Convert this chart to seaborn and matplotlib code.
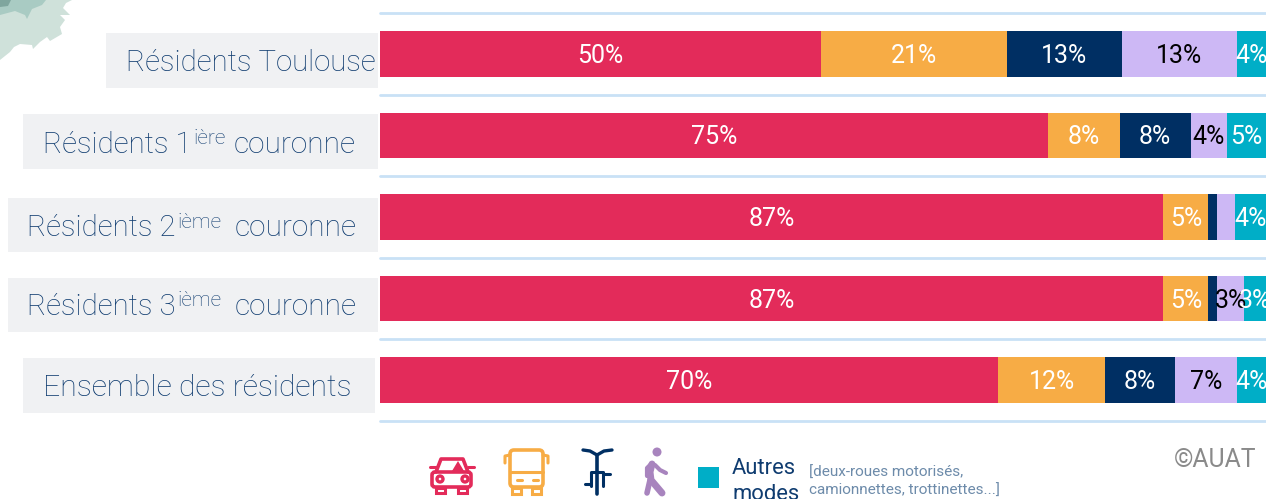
import matplotlib
matplotlib.use("Agg")
import matplotlib.pyplot as plt
import numpy as np
import seaborn as sns
from matplotlib.patches import Rectangle, FancyBboxPatch, Circle, Polygon

sns.set_theme(style="white")
plt.rcParams['font.family'] = ['Roboto', 'DejaVu Sans']

categories = ["Toulouse", "1ere", "2eme", "3eme", "Ensemble"]
voiture = [49.8, 75.4, 88.4, 88.4, 69.8]
tc = [21.0, 8.1, 5.1, 5.1, 12.0]
velo = [12.9, 8.0, 1.0, 1.0, 7.9]
marche = [13.0, 4.1, 2.0, 3.0, 7.0]
autres = [3.4, 4.4, 3.5, 2.5, 3.4]
series = [voiture, tc, velo, marche, autres]
colors = ["#E32B5A", "#F7AC45", "#002F63", "#CDB8F5", "#00AEC7"]
label_voiture = ["50%", "75%", "87%", "87%", "70%"]
label_tc = ["21%", "8%", "5%", "5%", "12%"]
label_velo = ["13%", "8%", "", "", "8%"]
label_marche = ["13%", "4%", "", "3%", "7%"]
label_autres = ["4%", "5%", "4%", "3%", "4%"]
labels = [label_voiture, label_tc, label_velo, label_marche, label_autres]
label_colors = ["white", "white", "white", "black", "white"]

W, H = 1266, 499
fig = plt.figure(figsize=(W / 100, H / 100), dpi=100, facecolor="white")

# overlay in pixel coordinates for decoration
bg = fig.add_axes([0, 0, 1, 1], zorder=0)
bg.set_xlim(0, W); bg.set_ylim(H, 0); bg.axis("off")

ax = fig.add_axes([380 / W, (H - 421) / H, 886 / W, 408 / H], zorder=1)
ax.patch.set_alpha(0)
left = np.zeros(len(categories))
for vals, c in zip(series, colors):
    sns.barplot(y=categories, x=vals, left=left, color=c, saturation=1, orient="h",
                width=0.56, ax=ax, linewidth=0, zorder=3)
    left = left + np.array(vals)
ax.set_xlim(0, 100)
ax.set_ylim(4.5, -0.5)
ax.set_xticks([]); ax.set_yticks(np.arange(-0.5, 5, 1)); ax.set_yticklabels([])
ax.tick_params(length=0)
ax.grid(axis="y", color="#C9E1F6", linewidth=2, clip_on=False)
ax.set_axisbelow(True)
ax.set_ylabel(""); ax.set_xlabel("")
for s in ax.spines.values():
    s.set_visible(False)

left = np.zeros(len(categories))
for vals, labs, lc in zip(series, labels, label_colors):
    for i, (v, t) in enumerate(zip(vals, labs)):
        if t:
            ax.text(left[i] + v / 2, i + 0.025, t, ha="center", va="center", color=lc,
                    fontsize=18, zorder=5, clip_on=False)
    left = left + np.array(vals)

# row label boxes
navy = "#0F3C70"
boxes = [(106, 33, 272, 55), (23, 114, 355, 55), (8, 198, 370, 54), (8, 278, 370, 54), (23, 358, 352, 55)]
for b in boxes:
    bg.add_patch(Rectangle((b[0], b[1]), b[2], b[3], fc="#F0F1F3", ec="none"))
fs = 21.2
fs2 = 15
kw = dict(color=navy, va="center", ha="left", fontweight="light")
bg.text(126, 63, "Résidents Toulouse", fontsize=fs, **kw)
bg.text(43, 145, "Résidents 1", fontsize=fs, **kw)
bg.text(193, 139, "ière", fontsize=fs2, **kw)
bg.text(234, 145, "couronne", fontsize=21.5, **kw)
bg.text(27, 228, "Résidents 2", fontsize=fs, **kw)
bg.text(177, 222, "ième", fontsize=fs2, **kw)
bg.text(235, 228, "couronne", fontsize=21.5, **kw)
bg.text(27, 307, "Résidents 3", fontsize=fs, **kw)
bg.text(177, 301, "ième", fontsize=fs2, **kw)
bg.text(235, 307, "couronne", fontsize=21.5, **kw)
bg.text(43, 388, "Ensemble des résidents", fontsize=21.7, **kw)

# top-left blob
bg.add_patch(Polygon([(0, 60), (10, 52), (14, 47), (20, 44), (32, 45), (33, 49), (40, 42), (47, 37),
                      (50, 41), (62, 34), (60, 27), (65, 20), (60, 15), (70, 15), (63, 8), (66, 3),
                      (72, 0), (0, 0)], fc="#CFE1DA", ec="none"))
bg.add_patch(Polygon([(0, 15), (15, 11), (25, 15), (27, 19), (32, 9), (42, 5), (46, 0), (0, 0)],
                     fc="#A9CBC3", ec="none"))
bg.add_patch(Polygon([(0, 7), (8, 6), (11, 0), (0, 0)], fc="#7FA69E", ec="none"))

# legend: car
cc = colors[0]
bg.add_patch(FancyBboxPatch((432, 472), 39, 15, boxstyle="round,pad=0,rounding_size=3", fc="none", ec=cc, lw=2.6))
bg.plot([436, 441, 463, 468], [472, 459, 459, 472], color=cc, lw=2.6)
bg.add_patch(Polygon([(452, 471), (458, 461), (464, 471)], fc=cc, ec="none"))
bg.plot([430, 436], [467, 467], color=cc, lw=2.2)
bg.plot([468, 474], [467, 467], color=cc, lw=2.2)
for x in (436, 458):
    bg.add_patch(Rectangle((x, 488), 9, 5, fc="none", ec=cc, lw=2.2))
for x in (440, 465):
    bg.add_patch(Circle((x, 479), 3, fc="none", ec=cc, lw=2.4))

# bus
cb = colors[1]
bg.add_patch(FancyBboxPatch((510, 450), 33, 37, boxstyle="round,pad=0,rounding_size=4", fc="none", ec=cb, lw=2.6))
bg.plot([510, 543], [472, 472], color=cb, lw=2.2)
bg.plot([505, 505, 510], [463, 456, 455], color=cb, lw=2.2)
bg.plot([548, 548, 543], [463, 456, 455], color=cb, lw=2.2)
for x in (519, 535):
    bg.plot([x - 2, x + 3], [480, 480], color=cb, lw=2.2)
for x in (512, 532):
    bg.add_patch(Rectangle((x, 488), 9, 6, fc="none", ec=cb, lw=2.2))

# bike
cv = colors[2]
bg.plot([583, 590, 597, 604, 612], [450, 451, 455, 451, 450], color=cv, lw=2.4)
bg.plot([597, 597], [455, 494], color=cv, lw=2.6)
bg.plot([591, 591, 603, 603], [486, 472, 472, 486], color=cv, lw=2.2)
bg.plot([585, 591], [484, 484], color=cv, lw=2.2)
bg.plot([603, 610], [474, 474], color=cv, lw=2.2)

# walker
cw = "#A884BE"
bg.add_patch(Circle((657, 452), 4.5, fc=cw, ec="none"))
bg.plot([652, 650, 651, 662], [464, 472, 480, 493], color=cw, lw=5, solid_capstyle="round")
bg.plot([650, 647], [480, 493], color=cw, lw=4, solid_capstyle="round")
bg.plot([651, 647, 647], [464, 468, 476], color=cw, lw=3, solid_capstyle="round")
bg.plot([655, 660, 666], [465, 470, 473], color=cw, lw=3, solid_capstyle="round")

bg.add_patch(Rectangle((698, 467), 21, 21, fc=colors[4], ec="none"))
bg.text(732, 468, "Autres", color=navy, fontsize=15.8, va="center", ha="left")
bg.text(732, 494, "modes", color=navy, fontsize=15.8, va="center", ha="left")
bg.text(809, 473, "[deux-roues motorisés,", color="#6D8BAA", fontsize=11, va="center", ha="left")
bg.text(809, 491, "camionnettes, trottinettes...]", color="#6D8BAA", fontsize=11, va="center", ha="left")
bg.text(1256, 460, "©AUAT", color="#8A8A8A", fontsize=17.8, va="center", ha="right")

fig.savefig("out.png", dpi=100)
